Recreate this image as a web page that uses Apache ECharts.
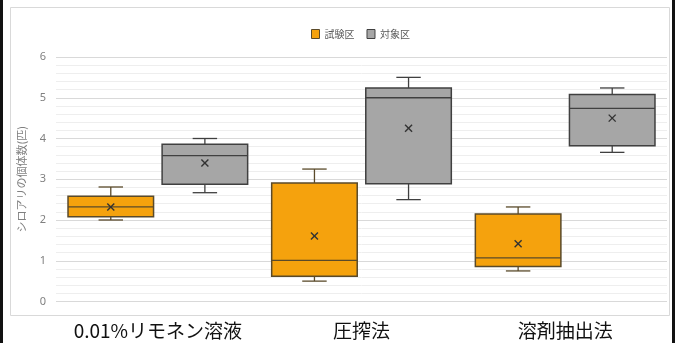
<!DOCTYPE html>
<html>
<head>
<meta charset="utf-8">
<script src="https://cdn.jsdelivr.net/npm/echarts@6/dist/echarts.min.js"></script>
<style>
  body { margin: 0; background: #fff; }
  #chart { width: 675px; height: 343px; }
</style>
</head>
<body>
<div id="chart"></div>
<script>
/**
 * シロアリの個体数 箱ひげ図
 */

var color_naranja = '#f5a20d';
var color_gris = '#a6a6a6';

// カテゴリ
var categories = ['0.01%リモネン溶液', '圧搾法', '溶剤抽出法'];

// 試験区: [min, Q1, median, Q3, max]
var shiken_box = [
    [2.00, 2.08, 2.32, 2.58, 2.81],
    [0.50, 0.62, 1.01, 2.91, 3.25],
    [0.75, 0.86, 1.07, 2.15, 2.32]
];
var shiken_mean = [2.32, 1.61, 1.42];

// 対象区: [min, Q1, median, Q3, max]
var taisho_box = [
    [2.67, 2.88, 3.58, 3.86, 4.00],
    [2.50, 2.89, 5.00, 5.24, 5.50],
    [3.66, 3.82, 4.74, 5.08, 5.24]
];
var taisho_mean = [3.40, 4.25, 4.50];

var y_ticks = [0, 1, 2, 3, 4, 5, 6];

function armar_datos(box, mean) {
    return box.map(function(b, i) {
        return [i, b[0], b[1], b[2], b[3], b[4], mean[i]];
    });
}

/** dibuja una caja desplazada dentro de la categoria */
function caja(offset, fill, stroke) {
    return function(params, api) {
        var x = api.value(0);
        var band = api.size([1, 0])[0];
        var cx = api.coord([x, 0])[0] + offset * band;
        var half = band * 0.21;
        var cap = band * 0.06;
        var yMin = api.coord([x, api.value(1)])[1];
        var yQ1 = api.coord([x, api.value(2)])[1];
        var yMed = api.coord([x, api.value(3)])[1];
        var yQ3 = api.coord([x, api.value(4)])[1];
        var yMax = api.coord([x, api.value(5)])[1];
        var yMean = api.coord([x, api.value(6)])[1];
        var line = { stroke: stroke, lineWidth: 1.3 };
        var xs = 3.5;
        return {
            type: 'group',
            children: [
                { type: 'line', shape: { x1: cx, y1: yQ3, x2: cx, y2: yMax }, style: line },
                { type: 'line', shape: { x1: cx, y1: yQ1, x2: cx, y2: yMin }, style: line },
                { type: 'line', shape: { x1: cx - cap, y1: yMax, x2: cx + cap, y2: yMax }, style: line },
                { type: 'line', shape: { x1: cx - cap, y1: yMin, x2: cx + cap, y2: yMin }, style: line },
                { type: 'rect', shape: { x: cx - half, y: yQ3, width: half * 2, height: yQ1 - yQ3 },
                  style: { fill: fill, stroke: stroke, lineWidth: 1.5 } },
                { type: 'line', shape: { x1: cx - half, y1: yMed, x2: cx + half, y2: yMed }, style: line },
                { type: 'line', shape: { x1: cx - xs, y1: yMean - xs, x2: cx + xs, y2: yMean + xs },
                  style: { stroke: '#333', lineWidth: 1.4 } },
                { type: 'line', shape: { x1: cx - xs, y1: yMean + xs, x2: cx + xs, y2: yMean - xs },
                  style: { stroke: '#333', lineWidth: 1.4 } }
            ]
        };
    };
}

var chart = echarts.init(document.getElementById('chart'));

option = {
    animation: false,
    backgroundColor: '#fff',
    graphic: [
        { type: 'rect', z: -10, shape: { x: 10.5, y: 7.5, width: 659, height: 308 },
          style: { fill: 'none', stroke: '#d9d9d9', lineWidth: 1 } },
        { type: 'rect', shape: { x: 0, y: 0, width: 3, height: 343 }, style: { fill: '#111' } },
        { type: 'rect', shape: { x: 672, y: 0, width: 3, height: 343 }, style: { fill: '#111' } }
    ],
    legend: {
        left: 306,
        top: 24,
        itemWidth: 8,
        itemHeight: 9,
        itemGap: 12,
        icon: 'rect',
        textStyle: { fontSize: 10, color: '#595959', fontFamily: 'Noto Sans CJK JP' },
        data: [
            { name: '試験区', itemStyle: { color: color_naranja, borderColor: '#5a4a2a', borderWidth: 1 } },
            { name: '対象区', itemStyle: { color: color_gris, borderColor: '#404040', borderWidth: 1 } }
        ]
    },
    grid: {
        left: 56,
        right: 8,
        top: 57,
        bottom: 41.5
    },
    xAxis: {
        type: 'category',
        data: categories,
        axisLine: { show: false },
        axisTick: { show: false },
        axisLabel: {
            interval: 0,
            hideOverlap: false,
            margin: 20,
            fontSize: 19,
            color: '#111',
            fontFamily: 'Noto Sans CJK JP'
        }
    },
    yAxis: {
        type: 'value',
        min: 0,
        max: 6,
        interval: 1,
        name: 'シロアリの個体数(匹)',
        nameLocation: 'middle',
        nameGap: 29,
        nameTextStyle: { fontSize: 11, color: '#808080', fontFamily: 'Noto Sans CJK JP' },
        axisLabel: {
            margin: 10,
            fontSize: 11,
            color: '#808080',
            fontFamily: 'Noto Sans',
            formatter: function(v) { return y_ticks.indexOf(v) >= 0 ? String(v) : ''; }
        },
        axisLine: { show: false },
        axisTick: { show: false },
        splitLine: { lineStyle: { color: '#d9d9d9', width: 1.2 } },
        minorTick: { show: false, splitNumber: 5 },
        minorSplitLine: { show: true, lineStyle: { color: '#eeeeee', width: 1 } }
    },
    series: [
        {
            name: '試験区',
            type: 'custom',
            itemStyle: { color: color_naranja },
            encode: { x: 0, y: [1, 2, 3, 4, 5, 6] },
            renderItem: caja(-0.231, color_naranja, '#5a4a2a'),
            data: armar_datos(shiken_box, shiken_mean)
        },
        {
            name: '対象区',
            type: 'custom',
            itemStyle: { color: color_gris },
            encode: { x: 0, y: [1, 2, 3, 4, 5, 6] },
            renderItem: caja(0.231, color_gris, '#404040'),
            data: armar_datos(taisho_box, taisho_mean)
        }
    ]
};

chart.setOption(option);
</script>
</body>
</html>
